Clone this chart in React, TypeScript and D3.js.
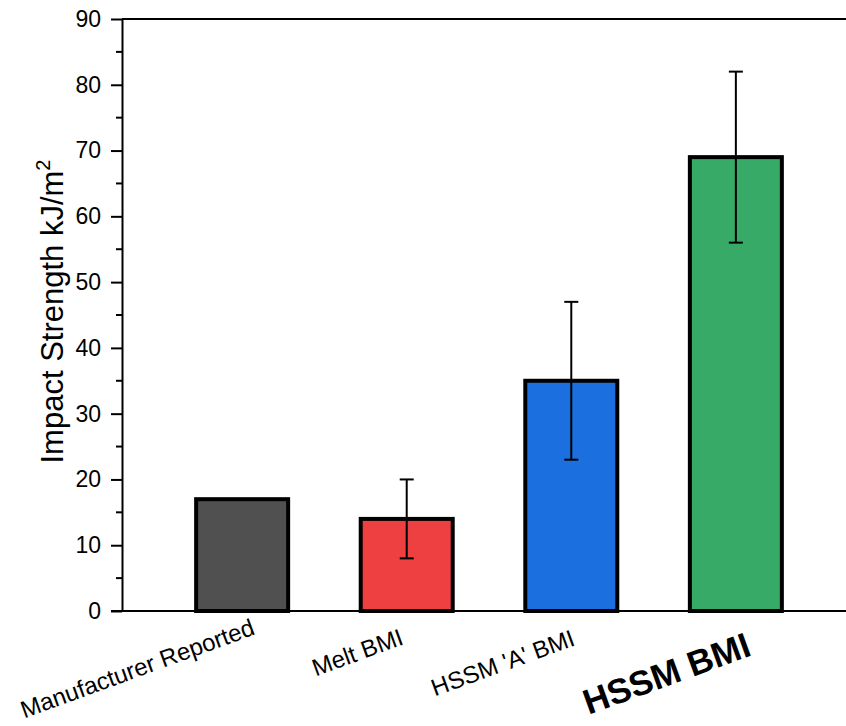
import React, { useRef, useEffect } from 'react';
import * as d3 from 'd3';

const categories = ['Manufacturer Reported', 'Melt BMI', "HSSM 'A' BMI", 'HSSM BMI'];
const values = [17, 14, 35, 69];
const errLow = [null, 8, 23, 56];
const errHigh = [null, 20, 47, 82];
const colors = ['#505050', '#EF4041', '#1B6FDF', '#38AA68'];
const majorTicks = [0, 10, 20, 30, 40, 50, 60, 70, 80, 90];
const minorTicks = [5, 15, 25, 35, 45, 55, 65, 75, 85];

// hand placement of the rotated category labels (layout, not data)
const labelNudge = [[14, 23], [-2, 33], [5, 34], [17, 44]];

const App = () => {
    const svgRef = useRef<SVGSVGElement>(null);

    useEffect(() => {
        const svg = d3.select(svgRef.current);
        svg.selectAll('*').remove();

        const width = 846;
        const height = 726;
        const left = 122;
        const top = 19;
        const bottom = 611;

        const x = d3.scalePoint<string>()
            .domain(categories)
            .range([left, 856])
            .padding(0.73);

        const y = d3.scaleLinear()
            .domain([0, 90])
            .range([bottom, top]);

        const barW = 92;

        svg.attr('viewBox', [0, 0, width, height])
            .attr('width', width)
            .attr('height', height);

        // frame lines
        svg.append('line')
            .attr('x1', left).attr('x2', width)
            .attr('y1', top).attr('y2', top)
            .attr('stroke', '#000').attr('stroke-width', 2);

        // bars
        svg.append('g')
            .selectAll('rect')
            .data(values)
            .join('rect')
            .attr('x', (d, i) => x(categories[i])! - barW / 2)
            .attr('y', d => y(d))
            .attr('width', barW)
            .attr('height', d => y(0) - y(d))
            .attr('fill', (d, i) => colors[i])
            .attr('stroke', '#000')
            .attr('stroke-width', 4);

        // error bars
        const err = svg.append('g').attr('stroke', '#000').attr('stroke-width', 2);
        values.forEach((v, i) => {
            if (errLow[i] == null) return;
            const cx = x(categories[i])!;
            err.append('line')
                .attr('x1', cx).attr('x2', cx)
                .attr('y1', y(errLow[i]!)).attr('y2', y(errHigh[i]!));
            [errLow[i]!, errHigh[i]!].forEach(e => {
                err.append('line')
                    .attr('x1', cx - 7).attr('x2', cx + 7)
                    .attr('y1', y(e)).attr('y2', y(e));
            });
        });

        // y axis
        const yAxis = svg.append('g')
            .attr('transform', `translate(${left},0)`)
            .call(d3.axisLeft(y).tickValues(majorTicks).tickSize(11).tickPadding(10).tickSizeOuter(0));
        yAxis.select('.domain').attr('stroke-width', 2);
        yAxis.selectAll('.tick line').attr('stroke-width', 2);
        yAxis.selectAll('.tick text')
            .attr('font-family', 'Arial, "Liberation Sans", sans-serif')
            .attr('font-size', 23)
            .attr('fill', '#000');

        svg.append('g')
            .selectAll('line')
            .data(minorTicks)
            .join('line')
            .attr('x1', left - 6).attr('x2', left)
            .attr('y1', d => y(d)).attr('y2', d => y(d))
            .attr('stroke', '#000').attr('stroke-width', 2);

        // x axis line
        svg.append('line')
            .attr('x1', left - 11).attr('x2', width)
            .attr('y1', bottom).attr('y2', bottom)
            .attr('stroke', '#000').attr('stroke-width', 2);

        // category labels
        svg.append('g')
            .selectAll('text')
            .data(categories)
            .join('text')
            .attr('transform', (d, i) => `translate(${x(d)! + labelNudge[i][0]},${bottom + labelNudge[i][1]}) rotate(-20)`)
            .attr('text-anchor', 'end')
            .attr('font-family', 'Arial, "Liberation Sans", sans-serif')
            .attr('font-size', (d, i) => (i === 3 ? 35 : 24))
            .attr('font-weight', (d, i) => (i === 3 ? 'bold' : 'normal'))
            .text(d => d);

        // y label
        const yl = svg.append('text')
            .attr('transform', `translate(63,${(473 + 150) / 2}) rotate(-90)`)
            .attr('text-anchor', 'middle')
            .attr('font-family', 'Arial, "Liberation Sans", sans-serif')
            .attr('font-size', 31);
        yl.append('tspan').text('Impact Strength kJ/m');
        yl.append('tspan').attr('font-size', 20).attr('dy', -13).text('2');
    }, []);

    return (
        <svg ref={svgRef} style={{ position: 'absolute', left: 0, top: 0, background: '#fff' }}></svg>
    );
};

export default App;
